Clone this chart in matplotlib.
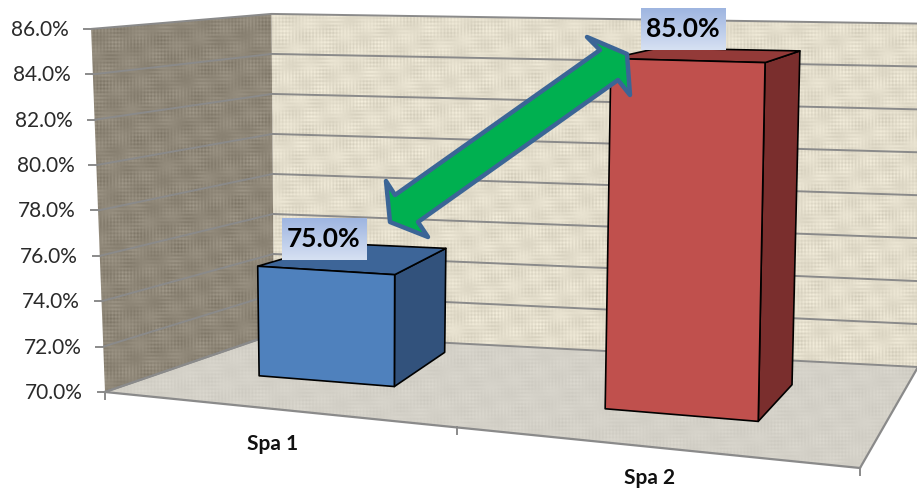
import numpy as np
import matplotlib
matplotlib.use("Agg")
import matplotlib.pyplot as plt
from matplotlib.patches import Polygon

categories = ["Spa 1", "Spa 2"]
values = [75.0, 85.0]
z_ticks = [70, 72, 74, 76, 78, 80, 82, 84, 86]
tick_labels = ["70.0%", "72.0%", "74.0%", "76.0%", "78.0%", "80.0%", "82.0%", "84.0%", "86.0%"]
front_colors = ["#4F81BD", "#C0504D"]
top_colors = ["#3D6598", "#933A38"]
side_colors = ["#32527C", "#7A2E2D"]

W, H = 917, 488
plt.rcParams["font.family"] = ["Lato", "DejaVu Sans"]

zmin, zmax = z_ticks[0], z_ticks[-1]


def homography(pix):
    # maps unit-square (s, d) corners (0,0), (1,0), (1,1), (0,1) to the given pixels
    src = [(0, 0), (1, 0), (1, 1), (0, 1)]
    A, b = [], []
    for (s, d), (u, v) in zip(src, pix):
        A.append([s, d, 1, 0, 0, 0, -u * s, -u * d]); b.append(u)
        A.append([0, 0, 0, s, d, 1, -v * s, -v * d]); b.append(v)
    return np.append(np.linalg.solve(np.array(A, float), np.array(b, float)), 1).reshape(3, 3)


floor_h = homography([(105, 392), (860, 468), (918, 367), (274, 334)])

# how far a floor point rises on screen over the whole value range
rise_at = np.array([(105, 392), (274, 334), (918, 367), (392, 387), (447, 352),
                    (759, 422), (791, 385), (259, 375), (606, 408)], float)
rise = np.array([(-14, -363), (-2, -321), (7, -343), (-3, -349), (0, -317),
                 (9.6, -384), (9.6, -355), (-6.4, -342), (2, -376)], float)
rise_wt = np.array([5, 5, 3, 1, 1, 3, 2, 1, 2], float)[:, None]


def rise_features(u, v):
    return np.array([u, v, 1.0, (u / 900.0) ** 2])


rise_fit = np.linalg.lstsq(np.array([rise_features(u, v) for u, v in rise_at]) * rise_wt,
                           rise * rise_wt, rcond=None)[0]


def proj(x, d, z):
    p = floor_h @ np.array([x / 2, d, 1.0])
    f = p[:2] / p[2]
    t = (z - zmin) / (zmax - zmin)
    return tuple(f + t * (rise_features(*f) @ rise_fit))


fig = plt.figure(figsize=(W / 100, H / 100), dpi=100)
ax = fig.add_axes([0, 0, 1, 1])
ax.set_xlim(0, W)
ax.set_ylim(H, 0)
ax.axis("off")

yy, xx = np.mgrid[0:H, 0:W]
slow_a = 0.5 + 0.25 * np.sin(yy * 2 * np.pi / 19.3 + xx * 0.05) + 0.25 * np.sin(yy * 2 * np.pi / 47.1 - xx * 0.031)
slow_b = 0.5 + 0.25 * np.sin(xx * 2 * np.pi / 23.9 + yy * 0.07) + 0.25 * np.sin(xx * 2 * np.pi / 53.3 + yy * 0.023)
weave = (np.sin(xx * 2 * np.pi / 3.37) * slow_a + np.sin(yy * 2 * np.pi / 3.71) * slow_b +
         0.7 * np.sin((xx + 0.4 * yy) * 2 * np.pi / 41) * np.sin((yy - 0.3 * xx) * 2 * np.pi / 31))


def textured(poly, base, amp, z):
    img = np.clip((np.array(base)[None, None, :] + amp * weave[..., None]) / 255, 0, 1)
    im = ax.imshow(img, extent=(0, W, H, 0), zorder=z, interpolation="bilinear", aspect="auto")
    patch = Polygon(poly, closed=True, transform=ax.transData, fc="none", ec="none")
    ax.add_patch(patch)
    im.set_clip_path(patch)


textured([proj(0, 1, zmin), proj(2, 1, zmin), proj(2, 1, zmax), proj(0, 1, zmax)], (227, 221, 203), 8, 1)
textured([proj(0, 0, zmin), proj(0, 1, zmin), proj(0, 1, zmax), proj(0, 0, zmax)], (143, 135, 120), 8, 1)
textured([proj(0, 0, zmin), proj(2, 0, zmin), proj(2, 1, zmin), proj(0, 1, zmin)], (212, 209, 200), 3.5, 2)

gridc = "#8a8a8a"
for z, lab in zip(z_ticks, tick_labels):
    a, c, e = proj(0, 0, z), proj(0, 1, z), proj(2, 1, z)
    ax.plot([a[0], c[0], e[0]], [a[1], c[1], e[1]], color=gridc, lw=1.4, zorder=3, solid_capstyle="butt")
    ax.plot([a[0] - 7, a[0]], [a[1], a[1]], color=gridc, lw=1.4, zorder=3)
    ax.text(a[0] - 22, a[1] + 1, lab, ha="right", va="center", fontsize=15, color="#2a2a2a", zorder=6)

for a, c in [((0, 0), (0, 1)), ((0, 0), (2, 0)), ((2, 0), (2, 1))]:
    p, q = proj(*a, zmin), proj(*c, zmin)
    ax.plot([p[0], q[0]], [p[1], q[1]], color=gridc, lw=1.6, zorder=3)
cat_edges = [0, 1.154, 2]
for x in cat_edges:
    p = proj(x, 0, zmin)
    ax.plot([p[0], p[0]], [p[1], p[1] + 7], color=gridc, lw=1.4, zorder=3)

# bars: right edge narrows a little towards the back in the reference's perspective
bar_x0 = [0.345, 1.416]
bar_x1_front = [0.81, 1.76]
bar_x1_back = [0.745, 1.76]
bar_d = [(0.355, 0.85), (0.30, 0.70)]
label_pos = [(324, 239), (683, 29)]
for i, val in enumerate(values):
    x0, xf, xb = bar_x0[i], bar_x1_front[i], bar_x1_back[i]
    d0, d1 = bar_d[i]
    kw = dict(closed=True, ec="black", lw=1.2, joinstyle="round", zorder=4)
    ax.add_patch(Polygon([proj(xf, d0, zmin), proj(xb, d1, zmin), proj(xb, d1, val), proj(xf, d0, val)], fc=side_colors[i], **kw))
    ax.add_patch(Polygon([proj(x0, d0, val), proj(xf, d0, val), proj(xb, d1, val), proj(x0, d1, val)], fc=top_colors[i], **kw))
    ax.add_patch(Polygon([proj(x0, d0, zmin), proj(xf, d0, zmin), proj(xf, d0, val), proj(x0, d0, val)], fc=front_colors[i], **kw))
    lx, ly = label_pos[i]
    grad = np.linspace(0, 1, 64)[:, None, None]
    img = (1 - grad) * np.array([0.62, 0.71, 0.88]) + grad * np.array([0.84, 0.88, 0.95])
    ax.imshow(img, extent=(lx - 42.5, lx + 42.5, ly + 21, ly - 21), zorder=6, aspect="auto")
    ax.text(lx, ly, f"{val:.1f}%", ha="center", va="center", fontsize=19, fontweight="bold", color="black", zorder=7)

ax.set_xlim(0, W)
ax.set_ylim(H, 0)

# double-headed arrow annotation
arrow = [(390, 222), (386, 181), (395, 195), (600, 50), (587, 37), (627, 54), (630, 95), (618, 80), (418, 222), (428, 237)]
ax.add_patch(Polygon(arrow, closed=True, fc="#00B050", ec="#3B6596", lw=3.2, joinstyle="round", zorder=5))

cat_label_dy = [36, 32]
for i, name in enumerate(categories):
    c = (cat_edges[i] + cat_edges[i + 1]) / 2
    p = proj(c, 0, zmin)
    ax.text(p[0] + 12, p[1] + cat_label_dy[i], name, ha="center", va="center", fontsize=15, fontweight="bold", color="#111111", zorder=6)

fig.savefig("out.png", dpi=100)
